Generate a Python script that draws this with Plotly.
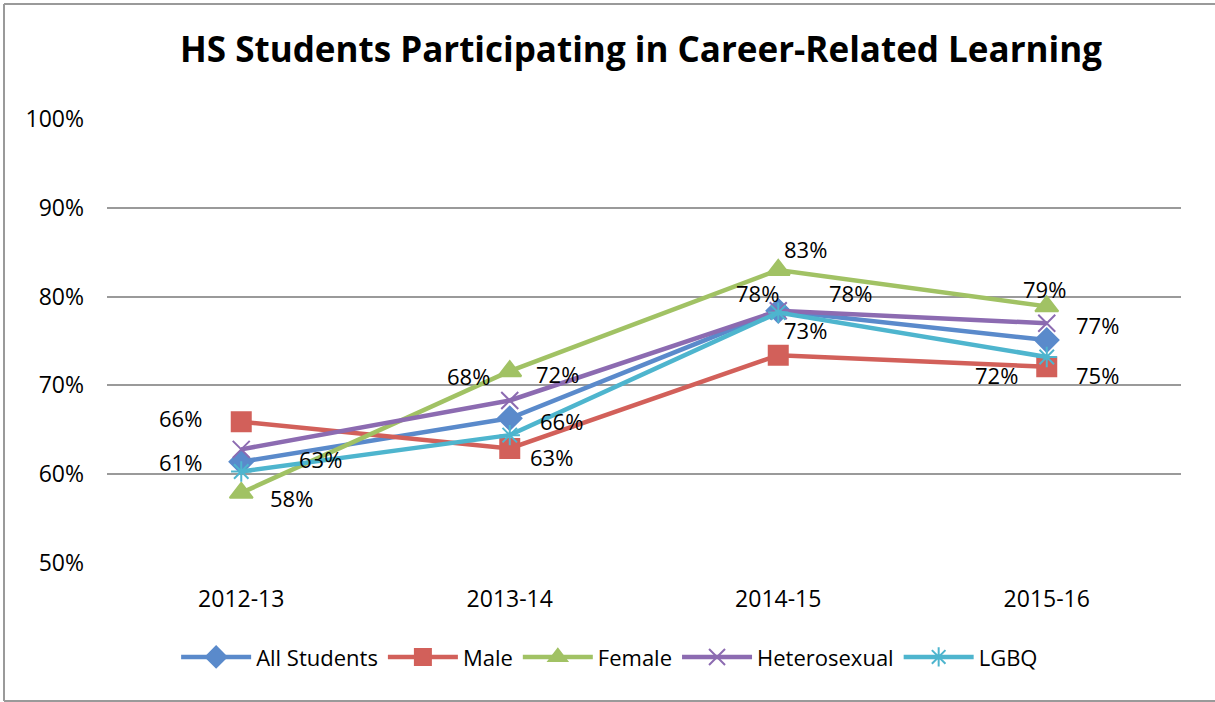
import plotly.graph_objects as go

years = ["2012-13", "2013-14", "2014-15", "2015-16"]
series_names = ["All Students", "Male", "Female", "Heterosexual", "LGBQ"]
all_students = [61.4, 66.3, 78.4, 75.1]
male = [65.9, 62.9, 73.4, 72.1]
female = [57.9, 71.6, 83.0, 78.9]
heterosexual = [62.8, 68.3, 78.4, 77.0]
lgbq = [60.3, 64.4, 78.2, 73.2]
y_ticks = [50, 60, 70, 80, 90, 100]
y_tick_labels = ["50%", "60%", "70%", "80%", "90%", "100%"]

values = [all_students, male, female, heterosexual, lgbq]
colors = ["#5A8ACB", "#D2605A", "#A1C264", "#8C6BB1", "#4EB5CE"]
symbols = ["diamond", "square", "triangle-up", "x-thin-open", "asterisk-open"]
sizes = [18, 19, 20, 17, 17]

FONT = "Open Sans, sans-serif"

# data-label pixel offsets (style), keyed by (series index, point index)
label_offsets = {
    (0, 0): (-61, 0), (1, 0): (-61, 4), (3, 0): (79, -10), (2, 0): (50, -5),
    (3, 1): (-41, 25), (2, 1): (48, -3), (0, 1): (52, -3), (1, 1): (42, -9),
    (2, 2): (27, 21), (0, 2): (-21, 18), (3, 2): (72, 18), (1, 2): (27, 25),
    (2, 3): (-2, 17), (3, 3): (51, -2), (0, 3): (51, -35), (1, 3): (-50, -8),
}

fig = go.Figure()
for i, (name, vals) in enumerate(zip(series_names, values)):
    fig.add_trace(go.Scatter(
        x=years, y=vals, name=name, mode="lines+markers",
        line=dict(color=colors[i], width=4.5),
        marker=dict(symbol=symbols[i], size=sizes[i], color=colors[i],
                    line=dict(color=colors[i], width=2)),
    ))

annotations = []
for (si, pi), (dx, dy) in label_offsets.items():
    v = values[si][pi]
    annotations.append(dict(
        x=years[pi], y=v, xref="x", yref="y", text=f"{round(v)}%",
        showarrow=False, xshift=dx, yshift=dy,
        font=dict(family=FONT, size=22, color="black"),
    ))

fig.update_layout(
    width=1215, height=702,
    margin=dict(l=107, r=34, t=119, b=139),
    paper_bgcolor="white", plot_bgcolor="white",
    title=dict(text="<b>HS Students Participating in Career-Related Learning</b>",
               x=0.5276, xanchor="center", y=0.929, yanchor="middle",
               font=dict(family=FONT, size=35, color="black")),
    xaxis=dict(showgrid=False, showline=False, ticks="", range=[-0.5, 3.5],
               ticklabelstandoff=20,
               tickfont=dict(family=FONT, size=23, color="black")),
    yaxis=dict(range=[50, 100], tickvals=y_ticks, ticktext=y_tick_labels,
               showgrid=True, gridcolor="#9A9A9A", gridwidth=1.5,
               showline=False, zeroline=False, ticks="", ticklabelstandoff=22,
               tickfont=dict(family=FONT, size=23, color="black")),
    legend=dict(orientation="h", x=0.468, xanchor="center", y=-0.212, yanchor="middle",
                font=dict(family=FONT, size=22, color="black"),
                itemwidth=70, traceorder="normal"),
    annotations=annotations,
    showlegend=True,
)

# chart border (left, top, bottom edges visible in the reference)
bx0, bx1 = (4 - 107) / 1074, (1215 - 107) / 1074
by0, by1 = (563 - 701) / 444, (563 - 4) / 444
for x0, y0, x1, y1 in [(bx0, by0, bx0, by1), (bx0, by1, bx1, by1), (bx0, by0, bx1, by0)]:
    fig.add_shape(type="line", xref="paper", yref="paper", x0=x0, y0=y0, x1=x1, y1=y1,
                  line=dict(color="#9A9A9A", width=2), layer="below")

fig.write_html("out.html", config={"displayModeBar": False},
               post_script="document.body.style.margin='0';document.body.style.overflow='hidden';")
